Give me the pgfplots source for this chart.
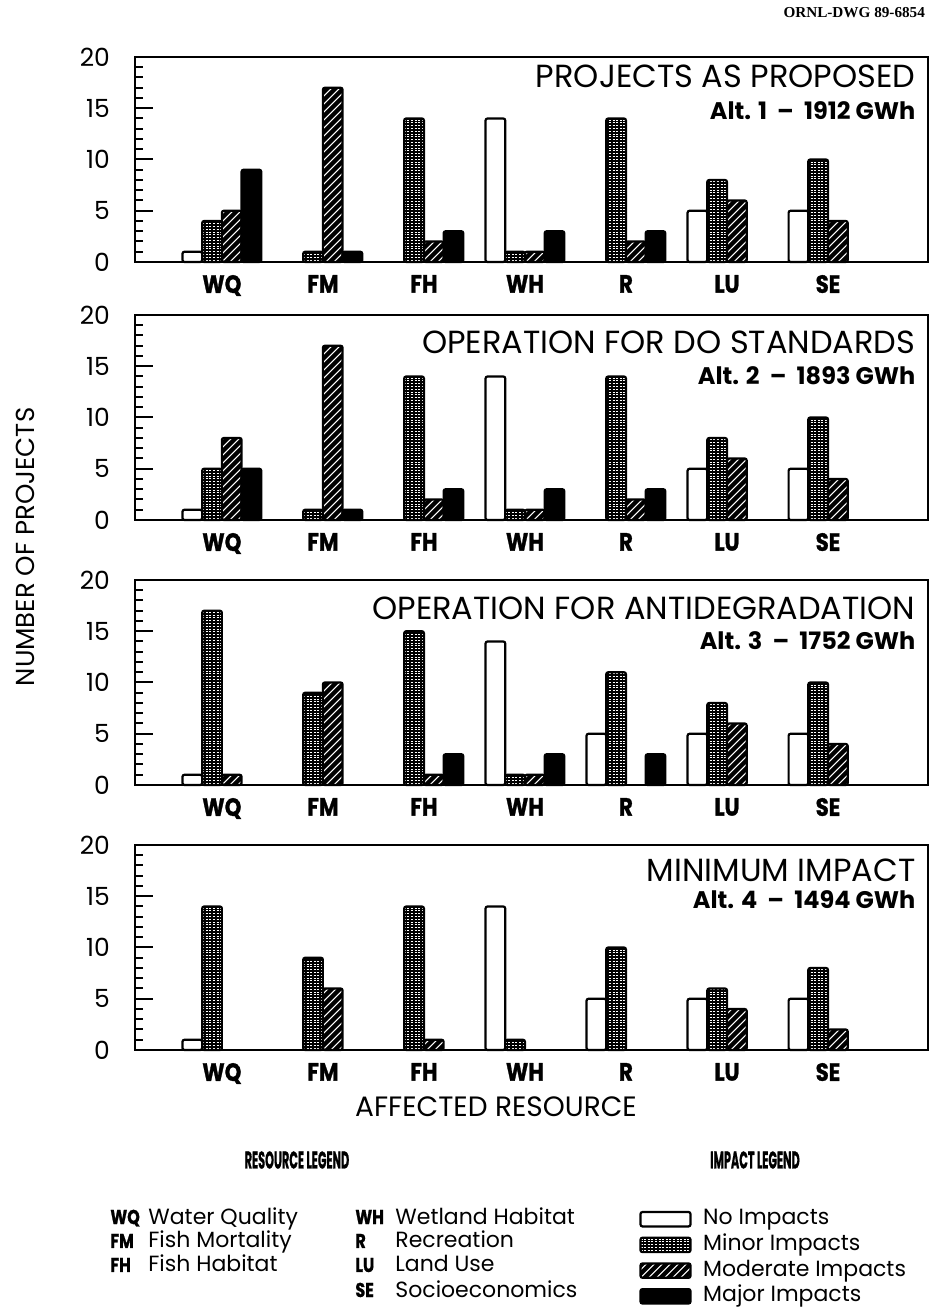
\documentclass[border=0pt]{standalone}
\usepackage{fontspec}
\setmainfont{Poppins}
\newfontfamily\heavy{Poppins}[FakeBold=1.2]
\newfontfamily\serifb{Liberation Serif}
\usepackage{graphicx}
\usepackage{pgfplots}
\pgfplotsset{compat=1.18}

\tikzset{
 plainline/.style={path picture={}, rounded corners=0pt, fill=none},
 noimp/.style={draw=black, fill=white, line width=1.1pt, rounded corners=1pt},
 minimp/.style={draw=black, fill=black, line width=1.1pt, rounded corners=1pt,
   path picture={\foreach \k in {0,...,66}{\path[plainline, draw=white, line width=0.5pt, dash pattern=on 1.0pt off 0.8pt]
     ([yshift=\k*1.4pt+0.9pt]path picture bounding box.south west) -- ([yshift=\k*1.4pt+0.9pt]path picture bounding box.south east);}}},
 modimp/.style={draw=black, fill=black, line width=1.1pt, rounded corners=1pt,
   path picture={\foreach \k in {-26,...,200}{\path[plainline, draw=white, line width=0.5pt]
     ([xshift=\k*4pt]path picture bounding box.south west) -- ++(95pt,95pt);}}},
 majimp/.style={draw=black, fill=black, line width=1.1pt, rounded corners=1pt},
}

\pgfplotsset{panel/.style={
 width=396.5pt, height=102.5pt, scale only axis,
 anchor=south west,
 xmin=-0.86, xmax=6.99, ymin=0, ymax=20,
 ybar, bar width=0.195,
 xtick={0,...,6},
 xticklabels={\scalebox{0.85}[1]{WQ},\scalebox{0.85}[1]{FM},\scalebox{0.85}[1]{FH},\scalebox{0.85}[1]{WH},\scalebox{0.85}[1]{R},\scalebox{0.85}[1]{LU},\scalebox{0.85}[1]{SE}},
 x tick style={draw=none},
 xticklabel style={font=\heavy\fontsize{12.5}{12.5}\selectfont\bfseries, yshift=-3pt},
 ytick={0,5,10,15,20}, minor y tick num=4,
 ytick pos=left, tick align=inside,
 major tick length=9pt, minor tick length=4pt,
 y tick style={black, line width=1pt},
 yticklabel style={font=\fontsize{12.5}{12.5}\selectfont, xshift=-9pt},
 /pgf/number format/assume math mode=true,
 axis line style={line width=1.1pt},
 clip=false,
}}

\newcommand{\ttl}{\fontsize{16}{16}\selectfont}
\newcommand{\alt}{\fontsize{12}{12}\selectfont\bfseries}

\begin{document}
\begin{tikzpicture}
\path[use as bounding box] (0pt,0pt) rectangle (468pt,653.5pt);

\node[anchor=base east, font=\serifb\fontsize{7.6}{7.6}\selectfont\bfseries] at (466pt,644.5pt) {ORNL-DWG 89-6854};

% Panel 1
\begin{axis}[panel, at={(67.5pt,522.5pt)}]
\addplot[noimp, bar shift=-0.2925] coordinates {(0,1) (3,14) (5,5) (6,5)};
\addplot[minimp, bar shift=-0.0975] coordinates {(0,4) (1,1) (2,14) (3,1) (4,14) (5,8) (6,10)};
\addplot[modimp, bar shift=0.0975] coordinates {(0,5) (1,17) (2,2) (3,1) (4,2) (5,6) (6,4)};
\addplot[majimp, bar shift=0.2925] coordinates {(0,9) (1,1) (2,3) (3,3) (4,3)};
\node[anchor=base east, font=\ttl] at (rel axis cs:0.993,0.853) {PROJECTS AS PROPOSED};
\node[anchor=base east, font=\alt] at (rel axis cs:0.993,0.697) {Alt. 1~~–~~1912 GWh};
\end{axis}

% Panel 2
\begin{axis}[panel, at={(67.5pt,393.5pt)}]
\addplot[noimp, bar shift=-0.2925] coordinates {(0,1) (3,14) (5,5) (6,5)};
\addplot[minimp, bar shift=-0.0975] coordinates {(0,5) (1,1) (2,14) (3,1) (4,14) (5,8) (6,10)};
\addplot[modimp, bar shift=0.0975] coordinates {(0,8) (1,17) (2,2) (3,1) (4,2) (5,6) (6,4)};
\addplot[majimp, bar shift=0.2925] coordinates {(0,5) (1,1) (2,3) (3,3) (4,3)};
\node[anchor=base east, font=\ttl] at (rel axis cs:0.993,0.81) {OPERATION FOR DO STANDARDS};
\node[anchor=base east, font=\alt] at (rel axis cs:0.993,0.663) {Alt. 2~~–~~1893 GWh};
\end{axis}

% Panel 3
\begin{axis}[panel, at={(67.5pt,261pt)}]
\addplot[noimp, bar shift=-0.2925] coordinates {(0,1) (3,14) (4,5) (5,5) (6,5)};
\addplot[minimp, bar shift=-0.0975] coordinates {(0,17) (1,9) (2,15) (3,1) (4,11) (5,8) (6,10)};
\addplot[modimp, bar shift=0.0975] coordinates {(0,1) (1,10) (2,1) (3,1) (5,6) (6,4)};
\addplot[majimp, bar shift=0.2925] coordinates {(2,3) (3,3) (4,3)};
\node[anchor=base east, font=\ttl] at (rel axis cs:0.993,0.805) {OPERATION FOR ANTIDEGRADATION};
\node[anchor=base east, font=\alt] at (rel axis cs:0.993,0.663) {Alt. 3~~–~~1752 GWh};
\end{axis}

% Panel 4
\begin{axis}[panel, at={(67.5pt,128.5pt)},
  legend image code/.code={\draw[#1] (0pt,-3.6pt) rectangle (25pt,3.6pt); \path (30pt,0pt);},
  legend style={at={(0.628,-0.745)}, anchor=north west, draw=none, fill=none,
    font=\fontsize{11}{11}\selectfont, row sep=0.75pt,
    nodes={inner sep=0.8pt, text height=8pt, text depth=2.5pt}},
  legend cell align=left]
\addplot[noimp, bar shift=-0.2925, forget plot] coordinates {(0,1) (3,14) (4,5) (5,5) (6,5)};
\addplot[minimp, bar shift=-0.0975, forget plot] coordinates {(0,14) (1,9) (2,14) (3,1) (4,10) (5,6) (6,8)};
\addplot[modimp, bar shift=0.0975, forget plot] coordinates {(1,6) (2,1) (5,4) (6,2)};
\addlegendimage{noimp}
\addlegendentry{No Impacts}
\addlegendimage{minimp}
\addlegendentry{Minor Impacts}
\addlegendimage{modimp}
\addlegendentry{Moderate Impacts}
\addlegendimage{majimp}
\addlegendentry{Major Impacts}
\node[anchor=base east, font=\ttl] at (rel axis cs:0.993,0.82) {MINIMUM IMPACT};
\node[anchor=base east, font=\alt] at (rel axis cs:0.993,0.688) {Alt. 4~~–~~1494 GWh};
\end{axis}

% Axis titles
\node[rotate=90, font=\fontsize{13}{13}\selectfont] at (12.5pt,380pt) {NUMBER OF PROJECTS};
\node[font=\fontsize{14}{14}\selectfont] at (248pt,100pt) {AFFECTED RESOURCE};

% Legend headings
\node[font=\heavy\fontsize{12}{12}\selectfont\bfseries] at (148.5pt,73.5pt) {\scalebox{0.47}[1]{RESOURCE LEGEND}};
\node[font=\heavy\fontsize{12}{12}\selectfont\bfseries] at (377.5pt,73.5pt) {\scalebox{0.47}[1]{IMPACT LEGEND}};

% Resource legend
\begin{scope}[every node/.style={anchor=base west, inner sep=0pt, font=\fontsize{11}{11}\selectfont}]
\node[font=\heavy\fontsize{10}{10}\selectfont\bfseries] at (55pt,41.5pt) {\scalebox{0.8}[1]{WQ}};
\node at (74pt,41.5pt) {Water Quality};
\node[font=\heavy\fontsize{10}{10}\selectfont\bfseries] at (55pt,29.5pt) {\scalebox{0.8}[1]{FM}};
\node at (74pt,29.5pt) {Fish Mortality};
\node[font=\heavy\fontsize{10}{10}\selectfont\bfseries] at (55pt,17.5pt) {\scalebox{0.8}[1]{FH}};
\node at (74pt,17.5pt) {Fish Habitat};
\node[font=\heavy\fontsize{10}{10}\selectfont\bfseries] at (177.5pt,41.5pt) {\scalebox{0.8}[1]{WH}};
\node at (197.5pt,41.5pt) {Wetland Habitat};
\node[font=\heavy\fontsize{10}{10}\selectfont\bfseries] at (177.5pt,29.5pt) {\scalebox{0.8}[1]{R}};
\node at (197.5pt,29.5pt) {Recreation};
\node[font=\heavy\fontsize{10}{10}\selectfont\bfseries] at (177.5pt,17.5pt) {\scalebox{0.8}[1]{LU}};
\node at (197.5pt,17.5pt) {Land Use};
\node[font=\heavy\fontsize{10}{10}\selectfont\bfseries] at (177.5pt,5pt) {\scalebox{0.8}[1]{SE}};
\node at (197.5pt,5pt) {Socioeconomics};
\end{scope}
\end{tikzpicture}
\end{document}
